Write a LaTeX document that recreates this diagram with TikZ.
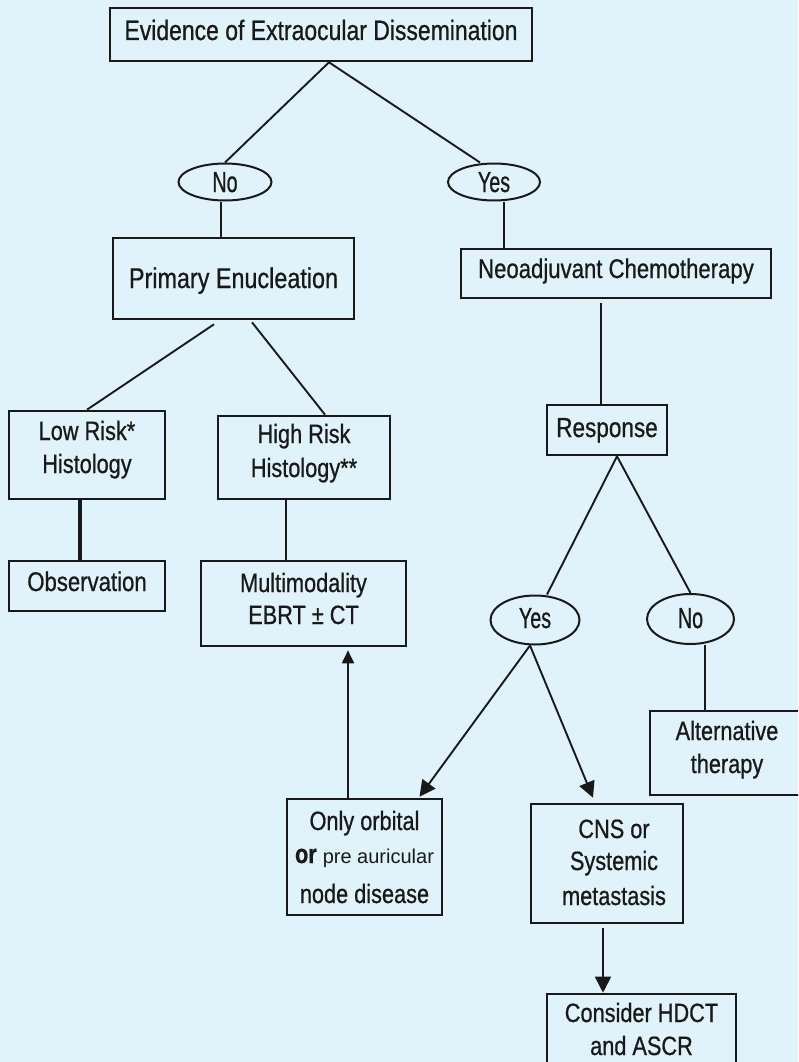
\documentclass[tikz,border=0pt]{standalone}
\usepackage{fontspec}
\setmainfont{Liberation Sans}
\newfontfamily\cf[FakeStretch=0.82,FakeBold=0.7]{Liberation Sans}
\newfontfamily\of[FakeStretch=0.68,FakeBold=0.7]{Liberation Sans}
\usetikzlibrary{arrows.meta,shapes.geometric,calc}
\definecolor{bg}{RGB}{224,243,251}
\definecolor{ink}{RGB}{25,25,25}
% #1: raise of the first baseline above the node centre, #2: lines
\newcommand{\txl}[2]{\raisebox{#1}[0pt][0pt]{\begin{tabular}[t]{@{}c@{}}#2\end{tabular}}}
\begin{document}
\begin{tikzpicture}[x=1pt,y=-1pt,
  box/.style={draw=ink,line width=2.6pt,rectangle,inner sep=0pt,
    font=\cf\fontsize{26.5}{33}\selectfont,text=ink},
  bigbox/.style={box,font=\cf\fontsize{28}{33}\selectfont},
  oval/.style={draw=ink,line width=2pt,ellipse,inner sep=0pt,
    font=\of\fontsize{29}{33}\selectfont,text=ink},
  conn/.style={draw=ink,line width=1.9pt},
  thick conn/.style={draw=ink,line width=4pt},
  arr/.style={conn,-{Triangle[length=16pt,width=16pt]}},
]
\useasboundingbox (0,0) rectangle (798,1062);
\clip (0,0) rectangle (798,1062);
\fill[bg] (0,0) rectangle (798,1062);
\renewcommand{\arraystretch}{1}

% boxes
\node[bigbox,minimum width=422,minimum height=53] (top) at (321,34.5) {\txl{-5.5pt}{Evidence of Extraocular Dissemination}};
\node[bigbox,minimum width=241,minimum height=81,font=\cf\fontsize{28.5}{33}\selectfont] (prim) at (233.5,278.5) {\txl{-9.5pt}{Primary Enucleation}};
\node[box,minimum width=156,minimum height=88] (low) at (87,455) {\txl{15pt}{Low Risk*\\Histology}};
\node[box,minimum width=172,minimum height=83] (high) at (304,457.5) {\txl{14.5pt}{High Risk\\[1pt]Histology**}};
\node[bigbox,minimum width=156,minimum height=50,font=\cf\fontsize{27}{33}\selectfont] (obs) at (87,586) {\txl{-5pt}{Observation}};
\node[box,minimum width=205,minimum height=85] (multi) at (303.5,603.5) {\txl{11.5pt}{Multimodality\\[-1pt]EBRT ± CT}};
\node[bigbox,minimum width=310,minimum height=49,font=\cf\fontsize{27}{33}\selectfont] (neo) at (616,273.5) {\txl{-4.5pt}{Neoadjuvant Chemotherapy}};
\node[bigbox,minimum width=120,minimum height=50,font=\cf\fontsize{27.5}{33}\selectfont] (resp) at (607,430) {\txl{-7pt}{Response}};
\node[box,minimum width=170,minimum height=84] (alt) at (735,753) {\txl{13pt}{Alternative\\therapy}\hspace*{16pt}};
\node[box,minimum width=155,minimum height=116] (orb) at (364.5,857) {\txl{27pt}{Only orbital\\{\bfseries or} {\rmfamily\fontsize{20}{33}\selectfont pre auricular}\\[7pt]node disease}};
\node[box,minimum width=152,minimum height=119] (cns) at (607,863.5) {\hspace*{14pt}\txl{25.5pt}{CNS or\\[-1pt]Systemic\\[2pt]metastasis}};
\node[box,minimum width=189,minimum height=86] (cons) at (641.5,1037) {\txl{15pt}{Consider HDCT\\and ASCR}};

% ovals
\node[oval,minimum width=93,minimum height=37] (no1) at (225,182) {\txl{-10pt}{No}};
\node[oval,minimum width=92,minimum height=37] (yes1) at (494,182) {\txl{-10pt}{Yes}};
\node[oval,minimum width=89,minimum height=49] (yes2) at (535,620) {\txl{-8pt}{Yes}};
\node[oval,minimum width=87,minimum height=50] (no2) at (690.5,619) {\txl{-9pt}{No}};

% connectors
\draw[conn] ([xshift=8pt]top.south) -- (no1.north);
\draw[conn] ([xshift=8pt]top.south) -- ([xshift=-14pt]yes1.north);
\draw[conn] ([xshift=-4pt]no1.south) -- ([xshift=-4pt]no1.south |- prim.north);
\draw[conn] ([xshift=10pt]yes1.south) -- ([xshift=10pt]yes1.south |- neo.north);
\draw[conn] ([xshift=-19.5pt,yshift=-4pt]prim.south) -- (low.north);
\draw[conn] ([xshift=18.5pt,yshift=-2pt]prim.south) -- ([xshift=21pt]high.north);
\draw[thick conn] ([xshift=-7pt]low.south) -- ([xshift=-7pt]low.south |- obs.north);
\draw[conn] ([xshift=-18pt]high.south) -- ([xshift=-18pt]high.south |- multi.north);
\draw[conn] ([xshift=-15pt,yshift=-4pt]neo.south) -- ([xshift=-15pt]neo.south |- resp.north);
\draw[conn] ([xshift=10pt]resp.south) -- ([xshift=12pt]yes2.north);
\draw[conn] ([xshift=10pt]resp.south) -- (no2.north);
\draw[conn] ([xshift=14.5pt]no2.south) -- ([xshift=14.5pt]no2.south |- alt.north);
\draw[arr] ([xshift=-5pt]yes2.south) -- ([xshift=55pt,yshift=1pt]orb.north);
\draw[arr] ([xshift=-5pt]yes2.south) -- ([xshift=-14pt,yshift=5pt]cns.north);
\draw[conn,-{Triangle[length=13pt,width=12pt]}] ([xshift=-16.5pt]orb.north) -- ([xshift=-16.5pt,yshift=-3pt]orb.north |- multi.south);
\draw[arr] ([xshift=-4pt,yshift=-4pt]cns.south) -- ([xshift=-4pt]cns.south |- cons.north);
\end{tikzpicture}
\end{document}
